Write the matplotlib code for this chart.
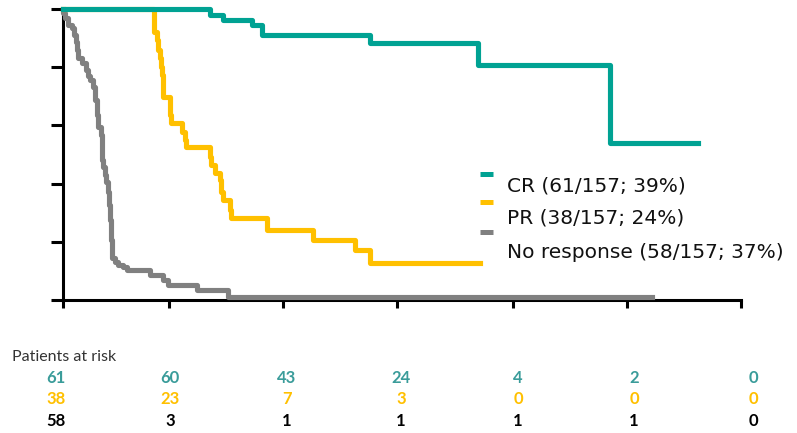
import matplotlib
matplotlib.use("Agg")
import matplotlib.pyplot as plt
from matplotlib.lines import Line2D

# Kaplan-Meier estimates (time in months, survival after each event)
cr_time = [0.0, 7.76, 8.44, 9.96, 10.49, 16.18, 21.85, 28.81]
cr_surv = [1.0, 0.980, 0.963, 0.946, 0.912, 0.883, 0.809, 0.540]
cr_end = 33.44

pr_time = [0.0, 4.81, 4.96, 5.02, 5.12, 5.17, 5.25, 5.28, 5.65, 5.70, 6.28, 6.44,
           6.49, 7.75, 7.81, 8.02, 8.28, 8.33, 8.44, 8.81, 8.86, 10.75, 13.17,
           15.38, 16.17]
pr_surv = [1.0, 0.921, 0.893, 0.859, 0.832, 0.801, 0.773, 0.698, 0.636, 0.608,
           0.577, 0.550, 0.526, 0.491, 0.464, 0.436, 0.412, 0.371, 0.344, 0.309,
           0.282, 0.241, 0.206, 0.172, 0.127]
pr_end = 21.97

nr_time = [0.0, 0.02, 0.12, 0.28, 0.49, 0.59, 0.70, 0.75, 0.81, 1.02, 1.23, 1.33,
           1.44, 1.59, 1.70, 1.81, 1.86, 2.02, 2.07, 2.12, 2.23, 2.28, 2.38, 2.44,
           2.49, 2.54, 2.59, 2.75, 2.91, 3.17, 3.38, 4.59, 5.28, 5.54, 7.07, 8.70]
nr_surv = [1.0, 0.986, 0.969, 0.945, 0.935, 0.911, 0.887, 0.859, 0.832, 0.814,
           0.790, 0.770, 0.756, 0.732, 0.687, 0.636, 0.595, 0.567, 0.481, 0.457,
           0.430, 0.405, 0.371, 0.326, 0.275, 0.206, 0.144, 0.131, 0.120, 0.113,
           0.103, 0.086, 0.069, 0.052, 0.034, 0.009]
nr_end = 31.0

legend_labels = ["CR (61/157; 39%)", "PR (38/157; 24%)", "No response (58/157; 37%)"]

risk_title = "Patients at risk"
risk_cr = [61, 60, 43, 24, 4, 2, 0]
risk_pr = [38, 23, 7, 3, 0, 0, 0]
risk_nr = [58, 3, 1, 1, 1, 1, 0]

TEAL = "#00A293"
YELLOW = "#FFC000"
GRAY = "#808080"
TEAL_TXT = "#3A9C9A"

W, H = 797, 433
fig = plt.figure(figsize=(W / 100, H / 100), dpi=100)

x0, x1 = 62.7, 740.7
y0, y1 = 300.0, 9.0
ax = fig.add_axes([x0 / W, (H - y0) / H, (x1 - x0) / W, (y0 - y1) / H])
ax.set_xlim(0, (x1 - x0) / 19.0)
ax.set_ylim(0, 1)

def km(ax, t, s, end, color, z):
    ax.step(list(t) + [end], list(s) + [s[-1]], where="post", color=color,
            lw=3.7, zorder=z, clip_on=False)

km(ax, nr_time, nr_surv, nr_end, GRAY, 3)
km(ax, pr_time, pr_surv, pr_end, YELLOW, 4)
km(ax, cr_time, cr_surv, cr_end, TEAL, 5)

for side in ("top", "right"):
    ax.spines[side].set_visible(False)
for side in ("left", "bottom"):
    ax.spines[side].set_linewidth(2.2)
    ax.spines[side].set_color("black")

ax.set_yticks([0, 0.2, 0.4, 0.6, 0.8, 1.0])
ax.set_xticks([0, 5.58, 11.58, 17.58, 23.68, 29.68, 35.68])
ax.tick_params(axis="y", direction="out", length=9, width=2.2, labelleft=False)
ax.tick_params(axis="x", direction="out", length=6, width=2.2, labelbottom=False)

# legend: short bars with labels set a little below them
mk_y = [174, 202, 231.5]
tx_y = [191, 224, 257.5]
for c, my, ty, lab in zip([TEAL, YELLOW, GRAY], mk_y, tx_y, legend_labels):
    fig.add_artist(Line2D([480 / W, 493 / W], [(H - my) / H] * 2, color=c, lw=3.6,
                          solid_capstyle="butt"))
    fig.text(507 / W, (H - ty) / H, lab, fontsize=14.5, family="DejaVu Sans",
             va="baseline", ha="left", color="#111111")

# number-at-risk table
fig.text(12 / W, (H - 357) / H, risk_title, fontsize=11.5, family="Lato",
         va="center", ha="left", color="#333333")
col_x = [56, 170, 287, 401, 518, 634, 753]
for row, c, ry in zip([risk_cr, risk_pr, risk_nr], [TEAL_TXT, YELLOW, "black"],
                      [378, 399.5, 421]):
    for cx, v in zip(col_x, row):
        fig.text(cx / W, (H - ry) / H, str(v), fontsize=12, family="Lato",
                 weight="bold", va="center", ha="center", color=c)

fig.savefig("out.png", dpi=100)
